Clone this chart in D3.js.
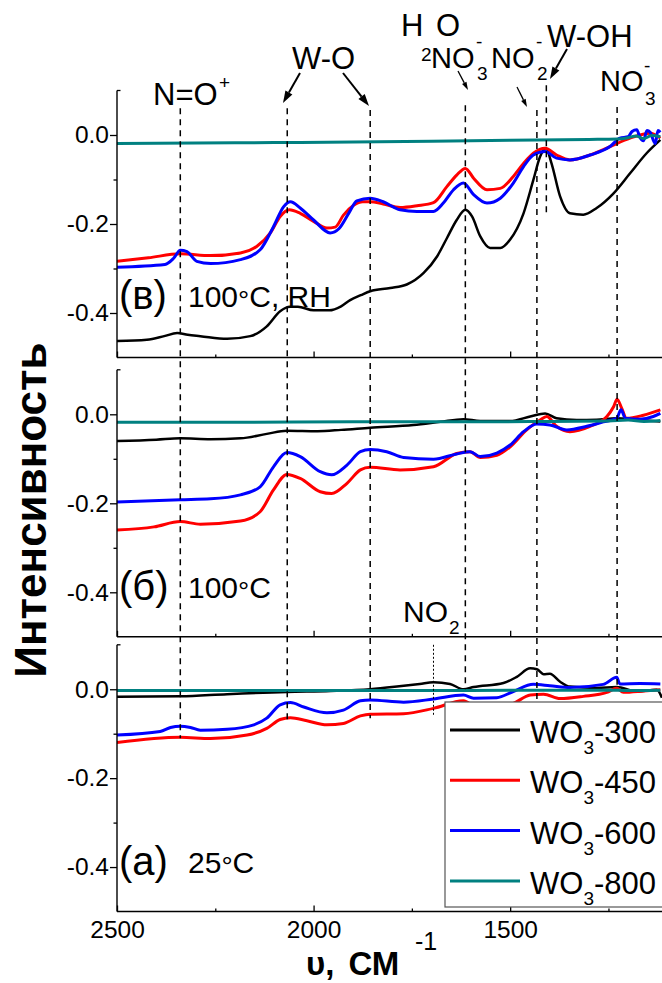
<!DOCTYPE html>
<html>
<head>
<meta charset="utf-8">
<script src="https://cdn.jsdelivr.net/npm/d3@7"></script>
<style>
  html, body { margin: 0; padding: 0; background: #fff; }
  svg { display: block; }
  text { font-family: "Liberation Sans", Arial, sans-serif; fill: #000; }
</style>
</head>
<body>
<svg id="chart" width="662" height="983"></svg>
<script>
// ---------------- DATA ----------------
const seriesNames = ["WO3-300", "WO3-450", "WO3-600", "WO3-800"];
const seriesColors = ["#000000", "#ff0000", "#0000ff", "#008080"];
const panelLabels = ["(в)", "(б)", "(a)"];
const panelConditions = ["100°C, RH", "100°C", "25°C"];
const xMajorTicks = [2500, 2000, 1500];
const xMinorTicks = [2250, 1750, 1250];
const yMajorTicks = [0.0, -0.2, -0.4];
const yMinorTicks = [-0.1, -0.3];

// panel (в) 100°C, RH  — [wavenumber, intensity]
const topW300 = [[2500,-0.463],[2424,-0.460],[2380,-0.452],[2347,-0.445],[2320,-0.449],[2288,-0.452],[2220,-0.458],[2161,-0.452],[2119,-0.430],[2085,-0.396],[2060,-0.386],[2040,-0.386],[2000,-0.394],[1960,-0.394],[1930,-0.385],[1907,-0.371],[1880,-0.360],[1856,-0.351],[1805,-0.344],[1763,-0.336],[1720,-0.310],[1686,-0.273],[1661,-0.232],[1636,-0.191],[1614,-0.168],[1597,-0.183],[1576,-0.228],[1551,-0.254],[1525,-0.254],[1500,-0.235],[1466,-0.176],[1441,-0.101],[1424,-0.049],[1409,-0.030],[1395,-0.063],[1373,-0.138],[1348,-0.176],[1314,-0.179],[1280,-0.164],[1237,-0.131],[1195,-0.086],[1153,-0.041],[1118,-0.011]];
const topW450 = [[2500,-0.284],[2420,-0.276],[2339,-0.267],[2262,-0.271],[2186,-0.265],[2144,-0.250],[2110,-0.220],[2085,-0.183],[2062,-0.168],[2034,-0.176],[2000,-0.194],[1966,-0.209],[1945,-0.207],[1924,-0.180],[1898,-0.158],[1875,-0.150],[1856,-0.150],[1823,-0.155],[1780,-0.163],[1737,-0.159],[1695,-0.152],[1661,-0.116],[1636,-0.090],[1614,-0.075],[1593,-0.097],[1559,-0.123],[1525,-0.120],[1492,-0.093],[1466,-0.064],[1441,-0.041],[1411,-0.030],[1382,-0.045],[1348,-0.056],[1297,-0.045],[1246,-0.026],[1195,-0.007],[1144,0.004],[1118,-0.007]];
const topW600 = [[2500,-0.297],[2378,-0.291],[2356,-0.277],[2339,-0.259],[2322,-0.262],[2297,-0.284],[2262,-0.289],[2186,-0.280],[2136,-0.258],[2102,-0.206],[2076,-0.161],[2059,-0.150],[2034,-0.164],[2000,-0.191],[1958,-0.220],[1935,-0.210],[1910,-0.175],[1890,-0.148],[1856,-0.142],[1823,-0.150],[1780,-0.168],[1737,-0.172],[1695,-0.172],[1670,-0.153],[1644,-0.123],[1619,-0.108],[1593,-0.134],[1559,-0.153],[1525,-0.142],[1492,-0.108],[1466,-0.071],[1441,-0.045],[1411,-0.037],[1382,-0.052],[1348,-0.056],[1297,-0.045],[1246,-0.026],[1221,-0.007],[1200,-0.004],[1190,0.008],[1178,0.012],[1170,-0.005],[1161,-0.013],[1152,0.010],[1144,0.006],[1131,-0.019],[1124,0.010],[1118,0.006]];
const topW800 = [[2500,-0.019],[2300,-0.018],[2100,-0.017],[1900,-0.016],[1700,-0.014],[1500,-0.012],[1300,-0.010],[1228,-0.009],[1200,-0.006],[1180,-0.002],[1160,-0.008],[1140,-0.001],[1118,-0.004]];

// panel (б) 100°C
const midW300 = [[2500,-0.060],[2400,-0.057],[2339,-0.054],[2262,-0.056],[2186,-0.054],[2119,-0.044],[2068,-0.037],[1990,-0.038],[1930,-0.035],[1856,-0.030],[1746,-0.024],[1678,-0.017],[1619,-0.011],[1576,-0.015],[1500,-0.015],[1449,-0.005],[1411,0.002],[1382,-0.009],[1331,-0.013],[1280,-0.012],[1229,-0.009],[1178,-0.013],[1118,-0.016]];
const midW450 = [[2500,-0.260],[2406,-0.253],[2339,-0.241],[2288,-0.247],[2186,-0.240],[2136,-0.219],[2102,-0.170],[2068,-0.135],[2034,-0.144],[1983,-0.174],[1954,-0.178],[1915,-0.155],[1881,-0.125],[1856,-0.119],[1780,-0.125],[1695,-0.118],[1636,-0.088],[1602,-0.084],[1576,-0.097],[1534,-0.092],[1500,-0.073],[1458,-0.035],[1424,-0.013],[1407,-0.005],[1382,-0.027],[1348,-0.039],[1297,-0.027],[1254,-0.005],[1237,0.017],[1228,0.034],[1217,0.015],[1204,-0.009],[1161,-0.002],[1118,0.010]];
const midW600 = [[2500,-0.197],[2339,-0.192],[2262,-0.190],[2186,-0.181],[2136,-0.163],[2102,-0.118],[2068,-0.086],[2034,-0.095],[1983,-0.129],[1954,-0.136],[1915,-0.114],[1881,-0.084],[1856,-0.079],[1814,-0.084],[1771,-0.097],[1695,-0.101],[1636,-0.089],[1602,-0.084],[1576,-0.095],[1534,-0.087],[1500,-0.069],[1466,-0.039],[1432,-0.022],[1399,-0.024],[1356,-0.035],[1305,-0.027],[1263,-0.017],[1229,-0.009],[1218,0.010],[1207,-0.009],[1170,-0.011],[1136,-0.005],[1118,0.002]];
const midW800 = [[2500,-0.018],[2200,-0.018],[1900,-0.017],[1600,-0.017],[1400,-0.016],[1250,-0.015],[1200,-0.013],[1160,-0.016],[1118,-0.014]];

// panel (a) 25°C
const botW300 = [[2500,-0.017],[2339,-0.016],[2220,-0.011],[2068,-0.006],[1957,-0.004],[1856,0.000],[1788,0.006],[1730,0.012],[1695,0.016],[1653,0.012],[1619,0.000],[1593,0.005],[1517,0.014],[1483,0.028],[1449,0.047],[1432,0.045],[1415,0.034],[1399,0.035],[1373,0.017],[1348,0.006],[1280,0.003],[1229,0.005],[1178,-0.005],[1127,-0.001],[1114,-0.019]];
const botW450 = [[2500,-0.120],[2339,-0.108],[2262,-0.111],[2169,-0.103],[2119,-0.088],[2085,-0.068],[2059,-0.064],[2017,-0.071],[1966,-0.080],[1924,-0.077],[1881,-0.060],[1856,-0.056],[1771,-0.055],[1695,-0.043],[1619,-0.026],[1585,-0.041],[1542,-0.043],[1492,-0.032],[1449,-0.013],[1415,-0.011],[1373,-0.021],[1314,-0.016],[1254,-0.007],[1229,0.002],[1212,-0.007],[1161,-0.004],[1118,-0.001]];
const botW600 = [[2500,-0.103],[2390,-0.095],[2364,-0.086],[2339,-0.083],[2313,-0.086],[2288,-0.092],[2220,-0.090],[2152,-0.080],[2119,-0.065],[2085,-0.035],[2059,-0.030],[2025,-0.040],[1966,-0.053],[1924,-0.047],[1881,-0.026],[1856,-0.024],[1771,-0.029],[1695,-0.022],[1619,-0.013],[1593,-0.020],[1534,-0.019],[1492,-0.005],[1441,0.011],[1399,0.008],[1348,0.004],[1263,0.011],[1229,0.027],[1221,0.012],[1170,0.013],[1118,0.012]];
const botW800 = [[2500,-0.003],[2200,-0.003],[1900,-0.003],[1600,-0.003],[1400,-0.002],[1250,-0.002],[1200,-0.003],[1118,-0.002]];

const panelData = [
  [topW300, topW450, topW600, topW800],
  [midW300, midW450, midW600, midW800],
  [botW300, botW450, botW600, botW800]
];

// band marker lines (wavenumber), start in top-panel units, end in bottom-panel units
const bandWavenumbers = [2339, 2067, 1856, 1614, 1432, 1228];
const bandStart = [0.06, 0.06, 0.056, 0.067, 0.056, 0.063];
const bandEnd = [-0.11, -0.07, -0.065, 0.0, -0.03, 0.01];
const wohBand = { wn: 1408, from: 0.112, to: -0.175 };      // top panel only
const no2Band = { wn: 1695, from: 0.1, to: -0.058 };        // bottom panel only (dotted)

// ---------------- LAYOUT ----------------
const svg = d3.select("#chart");
const FONT = "'Liberation Sans', Arial, sans-serif";
const left = 117, right = 663.5;
const panels = [
  { top: 90.5, bottom: 357.5 },
  { top: 369.8, bottom: 636.8 },
  { top: 644.8, bottom: 911.5 }
];

const x = d3.scaleLinear().domain([2500, 1110]).range([left, right]);
const yScales = panels.map(p => d3.scaleLinear().domain([-0.5, 0.1]).range([p.bottom, p.top]));

const fmtY = v => v.toFixed(1);

svg.append("defs").append("clipPath").attr("id", "plotclip")
  .append("rect").attr("x", left).attr("y", 0).attr("width", 662 - left).attr("height", 983);

panels.forEach((p, i) => {
  const y = yScales[i];
  const g = svg.append("g");

  // curves
  const line = d3.line().x(d => x(d[0])).y(d => y(d[1])).curve(d3.curveMonotoneX);
  panelData[i].forEach((ser, k) => {
    g.append("path").datum(ser)
      .attr("d", line)
      .attr("fill", "none")
      .attr("stroke", seriesColors[k])
      .attr("stroke-width", k === 0 ? 2.5 : 3)
      .attr("stroke-linejoin", "round")
      .attr("clip-path", "url(#plotclip)");
  });

  // y axis
  const ya = d3.axisLeft(y).tickValues(yMajorTicks).tickSize(7).tickSizeOuter(0)
    .tickPadding(1).tickFormat(fmtY);
  const yag = g.append("g").attr("transform", `translate(${left},0)`).call(ya);
  yag.select(".domain").remove();
  yag.selectAll("line").attr("stroke", "#000").attr("stroke-width", 1.3);
  yag.selectAll("text").attr("font-family", FONT).attr("font-size", 24.5).attr("fill", "#000");
  const yam = d3.axisLeft(y).tickValues(yMinorTicks).tickSize(3.5).tickSizeOuter(0).tickFormat("");
  const yamg = g.append("g").attr("transform", `translate(${left},0)`).call(yam);
  yamg.select(".domain").remove();
  yamg.selectAll("line").attr("stroke", "#000").attr("stroke-width", 1.3);
  g.append("line").attr("x1", left).attr("x2", left)
    .attr("y1", y(0.1)).attr("y2", y(-0.5)).attr("stroke", "#000").attr("stroke-width", 1.4);
  g.append("line").attr("x1", left).attr("x2", left + 3.5)
    .attr("y1", y(0.1)).attr("y2", y(0.1)).attr("stroke", "#000").attr("stroke-width", 1.3);

  // x axis (ticks pointing inward)
  const xa = d3.axisBottom(x).tickValues(xMajorTicks).tickSize(-6).tickSizeOuter(0)
    .tickPadding(9).tickFormat(i === 2 ? d3.format("d") : () => "");
  const xag = g.append("g").attr("transform", `translate(0,${p.bottom})`).call(xa);
  xag.select(".domain").remove();
  xag.selectAll("line").attr("stroke", "#000").attr("stroke-width", 1.3);
  xag.selectAll("text").attr("font-family", FONT).attr("font-size", 24.5).attr("fill", "#000");
  const xam = d3.axisBottom(x).tickValues(xMinorTicks).tickSize(-3).tickSizeOuter(0).tickFormat("");
  const xamg = g.append("g").attr("transform", `translate(0,${p.bottom})`).call(xam);
  xamg.select(".domain").remove();
  xamg.selectAll("line").attr("stroke", "#000").attr("stroke-width", 1.3);
  g.append("line").attr("x1", left).attr("x2", 662)
    .attr("y1", p.bottom).attr("y2", p.bottom).attr("stroke", "#000").attr("stroke-width", 1.4);

  // panel label
  const ly = y(-0.4) + (i === 0 ? -6 : 6);
  g.append("text").attr("x", left + 2).attr("y", ly + 2)
    .attr("font-size", 40).text(panelLabels[i]);
  const cond = g.append("text").attr("x", 188).attr("y", ly).attr("font-size", 30);
  const parts = panelConditions[i].split("°");
  cond.append("tspan").text(parts[0]);
  cond.append("tspan").attr("font-size", 28).attr("dy", 3).text("°");
  cond.append("tspan").attr("dy", -3).text(parts[1]);
});

// ---------------- BAND LINES ----------------
const yTop = yScales[0], yBot = yScales[2];
const bands = svg.append("g");
bandWavenumbers.forEach((wn, i) => {
  bands.append("line")
    .attr("x1", x(wn)).attr("x2", x(wn))
    .attr("y1", yTop(bandStart[i])).attr("y2", yBot(bandEnd[i]))
    .attr("stroke", "#000").attr("stroke-width", 1.5).attr("stroke-dasharray", "6,5");
});
bands.append("line")
  .attr("x1", x(wohBand.wn)).attr("x2", x(wohBand.wn))
  .attr("y1", yTop(wohBand.from)).attr("y2", yTop(wohBand.to))
  .attr("stroke", "#000").attr("stroke-width", 1.5).attr("stroke-dasharray", "6,5");
bands.append("line")
  .attr("x1", x(no2Band.wn)).attr("x2", x(no2Band.wn))
  .attr("y1", yBot(no2Band.from)).attr("y2", yBot(no2Band.to))
  .attr("stroke", "#000").attr("stroke-width", 1).attr("stroke-dasharray", "2,2");

// ---------------- ANNOTATIONS ----------------
const ann = svg.append("g");
function txt(str, px, py, size) {
  return ann.append("text").attr("x", px).attr("y", py).attr("font-size", size).text(str);
}
const AF = 31, NF = 29, SF = 19;
txt("N=O", 153, 105, AF); txt("+", 219, 89, SF);
txt("W-O", 292, 69, AF);
txt("H", 401, 36, AF); txt("2", 421, 61, SF); txt("O", 436, 36, AF);
txt("NO", 431, 68, NF); txt("-", 476, 48, SF); txt("3", 477, 80, SF);
txt("NO", 491, 68, NF); txt("-", 536, 48, SF); txt("2", 537, 80, SF);
txt("W-OH", 547, 47, AF);
txt("NO", 600, 91, NF); txt("-", 644, 72, SF); txt("3", 645, 105, SF);
txt("NO", 403, 622, 30); txt("2", 449, 634, SF);

function arrow(x1, y1, x2, y2, hl, hw, sw) {
  const a = Math.atan2(y2 - y1, x2 - x1);
  const bx = x2 - hl * Math.cos(a), by = y2 - hl * Math.sin(a);
  ann.append("line").attr("x1", x1).attr("y1", y1).attr("x2", bx).attr("y2", by)
    .attr("stroke", "#000").attr("stroke-width", sw);
  const px = -Math.sin(a) * hw / 2, py = Math.cos(a) * hw / 2;
  ann.append("path").attr("d", `M${x2},${y2}L${bx + px},${by + py}L${bx - px},${by - py}Z`).attr("fill", "#000");
}
arrow(300, 73, 283, 103, 12, 8, 2);
arrow(343, 73, 369, 106, 12, 8, 2);
arrow(458, 71, 468, 90, 8, 5, 1.3);
arrow(517, 87, 527, 107, 8, 5, 1.3);
arrow(567, 49, 550, 79, 12, 8, 2);

// ---------------- AXIS TITLES ----------------
svg.append("text").attr("transform", "translate(46,510) rotate(-90)")
  .attr("text-anchor", "middle").attr("font-size", 44).attr("font-weight", "bold")
  .text("Интенсивность");
const xt = svg.append("text").attr("x", 306).attr("y", 975).attr("font-size", 33).attr("font-weight", "bold");
xt.append("tspan").text("υ,");
xt.append("tspan").attr("dx", 14).text("СМ");
svg.append("text").attr("x", 415).attr("y", 950).attr("font-size", 25).text("-1");

// ---------------- LEGEND ----------------
const leg = svg.append("g");
leg.append("rect").attr("x", 445).attr("y", 702).attr("width", 230).attr("height", 205)
  .attr("fill", "#fff").attr("stroke", "#555").attr("stroke-width", 1.2);
seriesNames.forEach((name, k) => {
  const ly = 730 + k * 50.3;
  leg.append("line").attr("x1", 450).attr("x2", 520).attr("y1", ly).attr("y2", ly)
    .attr("stroke", seriesColors[k]).attr("stroke-width", 3);
  const m = name.match(/^(WO)(3)(-\d+)$/);
  const t = leg.append("text").attr("x", 530).attr("y", ly + 13).attr("font-size", 31);
  t.append("tspan").text(m[1]);
  t.append("tspan").attr("font-size", SF).attr("dy", 11).text(m[2]);
  t.append("tspan").attr("dy", -11).text(m[3]);
});
</script>
</body>
</html>
